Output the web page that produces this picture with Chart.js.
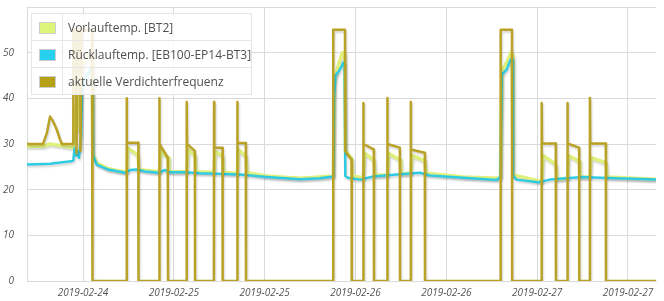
<!DOCTYPE html>
<html>
<head>
<meta charset="utf-8">
<script src="https://cdn.jsdelivr.net/npm/chart.js@4.4.1/dist/chart.umd.min.js"></script>
<style>
html, body { margin: 0; padding: 0; background: #fff; }
#wrap { position: relative; width: 664px; height: 301px; }
#legend { position: absolute; left: 31px; top: 13px; background: rgba(255,255,255,.85);
          font-family: 'Open Sans', sans-serif; font-size: 12px; color: #505050; }
#legend table { border-collapse: collapse; }
#legend td { border: 1px solid #e6e6e6; height: 26px; padding: 0; white-space: nowrap; }
#legend td.sw { width: 30px; text-align: center; }
#legend td.lb { width: 183px; padding-left: 5px; }
.box { display: inline-block; width: 15px; height: 10px; border: 1px solid #ccc; vertical-align: middle; }
</style>
</head>
<body>
<div id="wrap">
  <canvas id="chart" width="664" height="301"></canvas>
  <div id="legend"></div>
</div>
<script>
'use strict';

// ── Zeitachse: Stunden ab 2019-02-24 00:00 ────────────────
const tickHours  = [12, 24, 36, 48, 60, 72, 84];
const tickLabels = ['2019-02-24', '2019-02-25', '2019-02-25', '2019-02-26',
                    '2019-02-26', '2019-02-27', '2019-02-27'];

// ── Vorlauftemp. [BT2] ────────────────────────────────────
const vorlaufT = [4.60, 6.72, 7.64, 9.23, 10.55, 10.72, 10.94, 11.21, 11.47, 11.87, 12.53, 13.19, 13.30, 13.81,
                  15.34, 17.55, 17.77, 17.88, 19.27, 19.40, 22.08, 22.24, 23.23, 23.36, 25.70, 25.87, 26.80,
                  26.93, 29.31, 29.44, 30.45, 30.56, 32.38, 32.51, 33.53, 33.66, 36.27, 40.67, 45.07, 45.23,
                  45.95, 46.28, 46.57, 46.68, 47.50, 47.60, 49.03, 49.19, 50.44, 50.57, 52.20, 52.36, 53.88,
                  54.01, 55.29, 55.46, 57.18, 57.31, 62.24, 67.15, 67.35, 68.01, 68.54, 68.71, 68.80, 72.60,
                  72.77, 74.48, 74.61, 76.00, 76.13, 77.56, 77.65, 78.97, 79.11, 81.09, 81.22, 87.69];
const vorlaufV = [29.5, 29.5, 30.0, 29.6, 29.2, 29.5, 38, 33, 42, 47, 49, 50, 27.8, 25.8,
                  24.6, 23.9, 24.0, 29.2, 27.5, 24.4, 23.9, 28.5, 27.0, 24.0, 23.9, 28.8, 27.5,
                  23.9, 23.8, 28.4, 27.3, 23.8, 23.6, 28.8, 27.3, 23.7, 23.0, 22.5, 23.0, 44,
                  48.5, 50, 50, 28.5, 26.8, 23.0, 22.6, 28.0, 26.5, 23.2, 23.2, 28.0, 26.5,
                  23.5, 23.6, 27.5, 26.3, 23.6, 22.8, 22.5, 46, 48, 50, 49.5, 23.2, 21.8,
                  27.5, 25.5, 22.3, 22.5, 27.5, 26.2, 22.8, 22.8, 27.0, 25.9, 22.8, 22.3];

// ── Rücklauftemp. [EB100-EP14-BT3] ────────────────────────
const ruecklaufT = [4.60, 7.64, 10.41, 10.72, 10.88, 11.08, 11.27, 11.47, 11.74, 11.87, 12.40, 13.12, 13.27,
                    13.32, 13.81, 15.34, 17.55, 18.21, 19.09, 20.19, 21.95, 22.83, 23.49, 25.47, 27.46,
                    32.74, 36.27, 40.67, 43.31, 45.07, 45.16, 45.36, 45.82, 46.17, 46.35, 46.56, 46.65,
                    47.01, 48.59, 50.35, 53.44, 56.52, 57.84, 62.24, 66.65, 67.15, 67.31, 67.97, 68.50,
                    68.71, 68.80, 69.29, 72.14, 73.69, 78.09, 80.30, 87.69];
const ruecklaufV = [25.5, 25.7, 26.2, 26.4, 29.0, 27.5, 28.4, 27.0, 31.4, 42.0, 45.0, 46.5, 46.5,
                    27.5, 25.5, 24.4, 23.7, 24.3, 24.4, 24.0, 23.7, 24.3, 23.8, 23.8, 23.6,
                    23.3, 22.8, 22.3, 22.5, 22.9, 40.0, 45.0, 46.0, 47.0, 47.8, 47.8, 23.0,
                    22.6, 22.2, 22.9, 23.3, 23.7, 23.1, 22.6, 22.1, 22.8, 45.2, 46.3, 48.5,
                    48.5, 23.0, 22.2, 21.6, 22.2, 22.8, 22.6, 22.2];

// ── aktuelle Verdichterfrequenz ───────────────────────────
const verdichterT = [4.60, 6.72, 7.24, 7.64, 8.04, 8.57, 8.96, 9.23, 10.68, 10.72, 11.08, 11.14, 11.27, 11.60,
                     11.67, 11.80, 13.19, 13.25, 17.75, 17.77, 17.80, 19.31, 19.33, 22.06, 22.08, 22.12,
                     23.20, 23.23, 25.68, 25.70, 25.74, 26.78, 26.80, 29.29, 29.31, 29.35, 30.43, 30.45,
                     32.36, 32.38, 32.42, 33.51, 33.53, 45.04, 45.06, 46.61, 46.65, 47.48, 47.50, 49.01,
                     49.03, 49.07, 50.42, 50.44, 52.18, 52.20, 52.24, 53.86, 53.88, 55.27, 55.29, 55.33,
                     57.16, 57.18, 67.16, 67.18, 68.67, 68.69, 72.58, 72.60, 72.64, 74.46, 74.48, 75.98,
                     76.00, 76.04, 77.54, 77.56, 78.95, 78.97, 79.01, 81.07, 81.09, 87.69];
const verdichterV = [30, 30, 32.5, 36, 35, 33, 31, 30, 30, 55, 55, 28, 55, 55,
                     28.5, 55, 55, 0, 0, 40, 30.3, 30.3, 0, 0, 40, 30,
                     27, 0, 0, 39.2, 30, 28.5, 0, 0, 39.2, 29.2, 29.2, 0,
                     0, 39.2, 30.2, 30.2, 0, 0, 55, 55, 28.4, 26.6, 0, 0,
                     39, 30, 28.8, 0, 0, 40.1, 30, 29.2, 0, 0, 39.2, 28.8,
                     28.1, 0, 0, 55, 55, 0, 0, 39, 30.1, 30.1, 0, 0,
                     39, 30.1, 29.2, 0, 0, 40.1, 30.1, 30.1, 0, 0];

const yTicks = [0, 10, 20, 30, 40, 50];

const series = [
    { label: 'Vorlauftemp. [BT2]',               t: vorlaufT,    v: vorlaufV,    color: '#dff07c', width: 3.5, order: 2 },
    { label: 'Rücklauftemp. [EB100-EP14-BT3]',   t: ruecklaufT,  v: ruecklaufV,  color: '#2ecbe2', width: 2.5, order: 1 },
    { label: 'aktuelle Verdichterfrequenz',      t: verdichterT, v: verdichterV, color: '#b9a226', width: 2.5, order: 0 },
];
const swatchColors = ['#ddf57a', '#28d0ef', '#b5a018'];

const gridColor = '#dadada';
const tickFont  = { family: "'Open Sans', sans-serif", size: 10, style: 'italic' };
const tickColor = '#545454';

// ── Schatten wie im Original ──────────────────────────────
const shadowPlugin = {
    id: 'lineShadow',
    beforeDatasetDraw(chart) {
        const c = chart.ctx;
        c.save();
        c.shadowColor = 'rgba(0,0,0,0.16)';
        c.shadowBlur = 2;
        c.shadowOffsetX = 1;
        c.shadowOffsetY = 2;
    },
    afterDatasetDraw(chart) { chart.ctx.restore(); }
};

new Chart(document.getElementById('chart'), {
    type: 'line',
    data: {
        datasets: series.map(s => ({
            label: s.label,
            data: s.t.map((t, i) => ({ x: t, y: s.v[i] })),
            borderColor: s.color,
            backgroundColor: s.color,
            borderWidth: s.width,
            order: s.order,
            fill: false,
        }))
    },
    plugins: [shadowPlugin],
    options: {
        responsive: false,
        animation: false,
        layout: { padding: { left: 0, right: 8, top: 7, bottom: 0 } },
        plugins: { legend: { display: false }, tooltip: { enabled: false } },
        elements: { point: { radius: 0 }, line: { tension: 0, borderJoinStyle: 'round' } },
        scales: {
            x: {
                type: 'linear', min: 4.6, max: 87.7,
                afterBuildTicks: s => { s.ticks = tickHours.map(v => ({ value: v })); },
                afterFit: s => { s.height = 20; s.paddingLeft = 0; s.paddingRight = 0; },
                ticks: { callback: (v, i) => tickLabels[i], maxRotation: 0, autoSkip: false,
                         padding: 6, color: tickColor, font: tickFont },
                grid: { color: gridColor, drawTicks: false },
                border: { color: gridColor },
            },
            y: {
                min: 0, max: 60,
                afterBuildTicks: s => { s.ticks = yTicks.concat([60]).map(v => ({ value: v })); },
                afterFit: s => { s.width = 27; s.paddingTop = 0; s.paddingBottom = 0; },
                ticks: { callback: v => (yTicks.includes(v) ? v : ''), padding: 13,
                         color: tickColor, font: tickFont },
                grid: { color: gridColor, drawTicks: false },
                border: { color: gridColor },
            }
        }
    }
});

// ── Legende (HTML, über dem Diagramm) ─────────────────────
const rows = series.map((s, i) =>
    `<tr><td class="sw"><span class="box" style="background:${swatchColors[i]}"></span></td>` +
    `<td class="lb">${s.label}</td></tr>`).join('');
document.getElementById('legend').innerHTML = `<table>${rows}</table>`;
</script>
</body>
</html>
